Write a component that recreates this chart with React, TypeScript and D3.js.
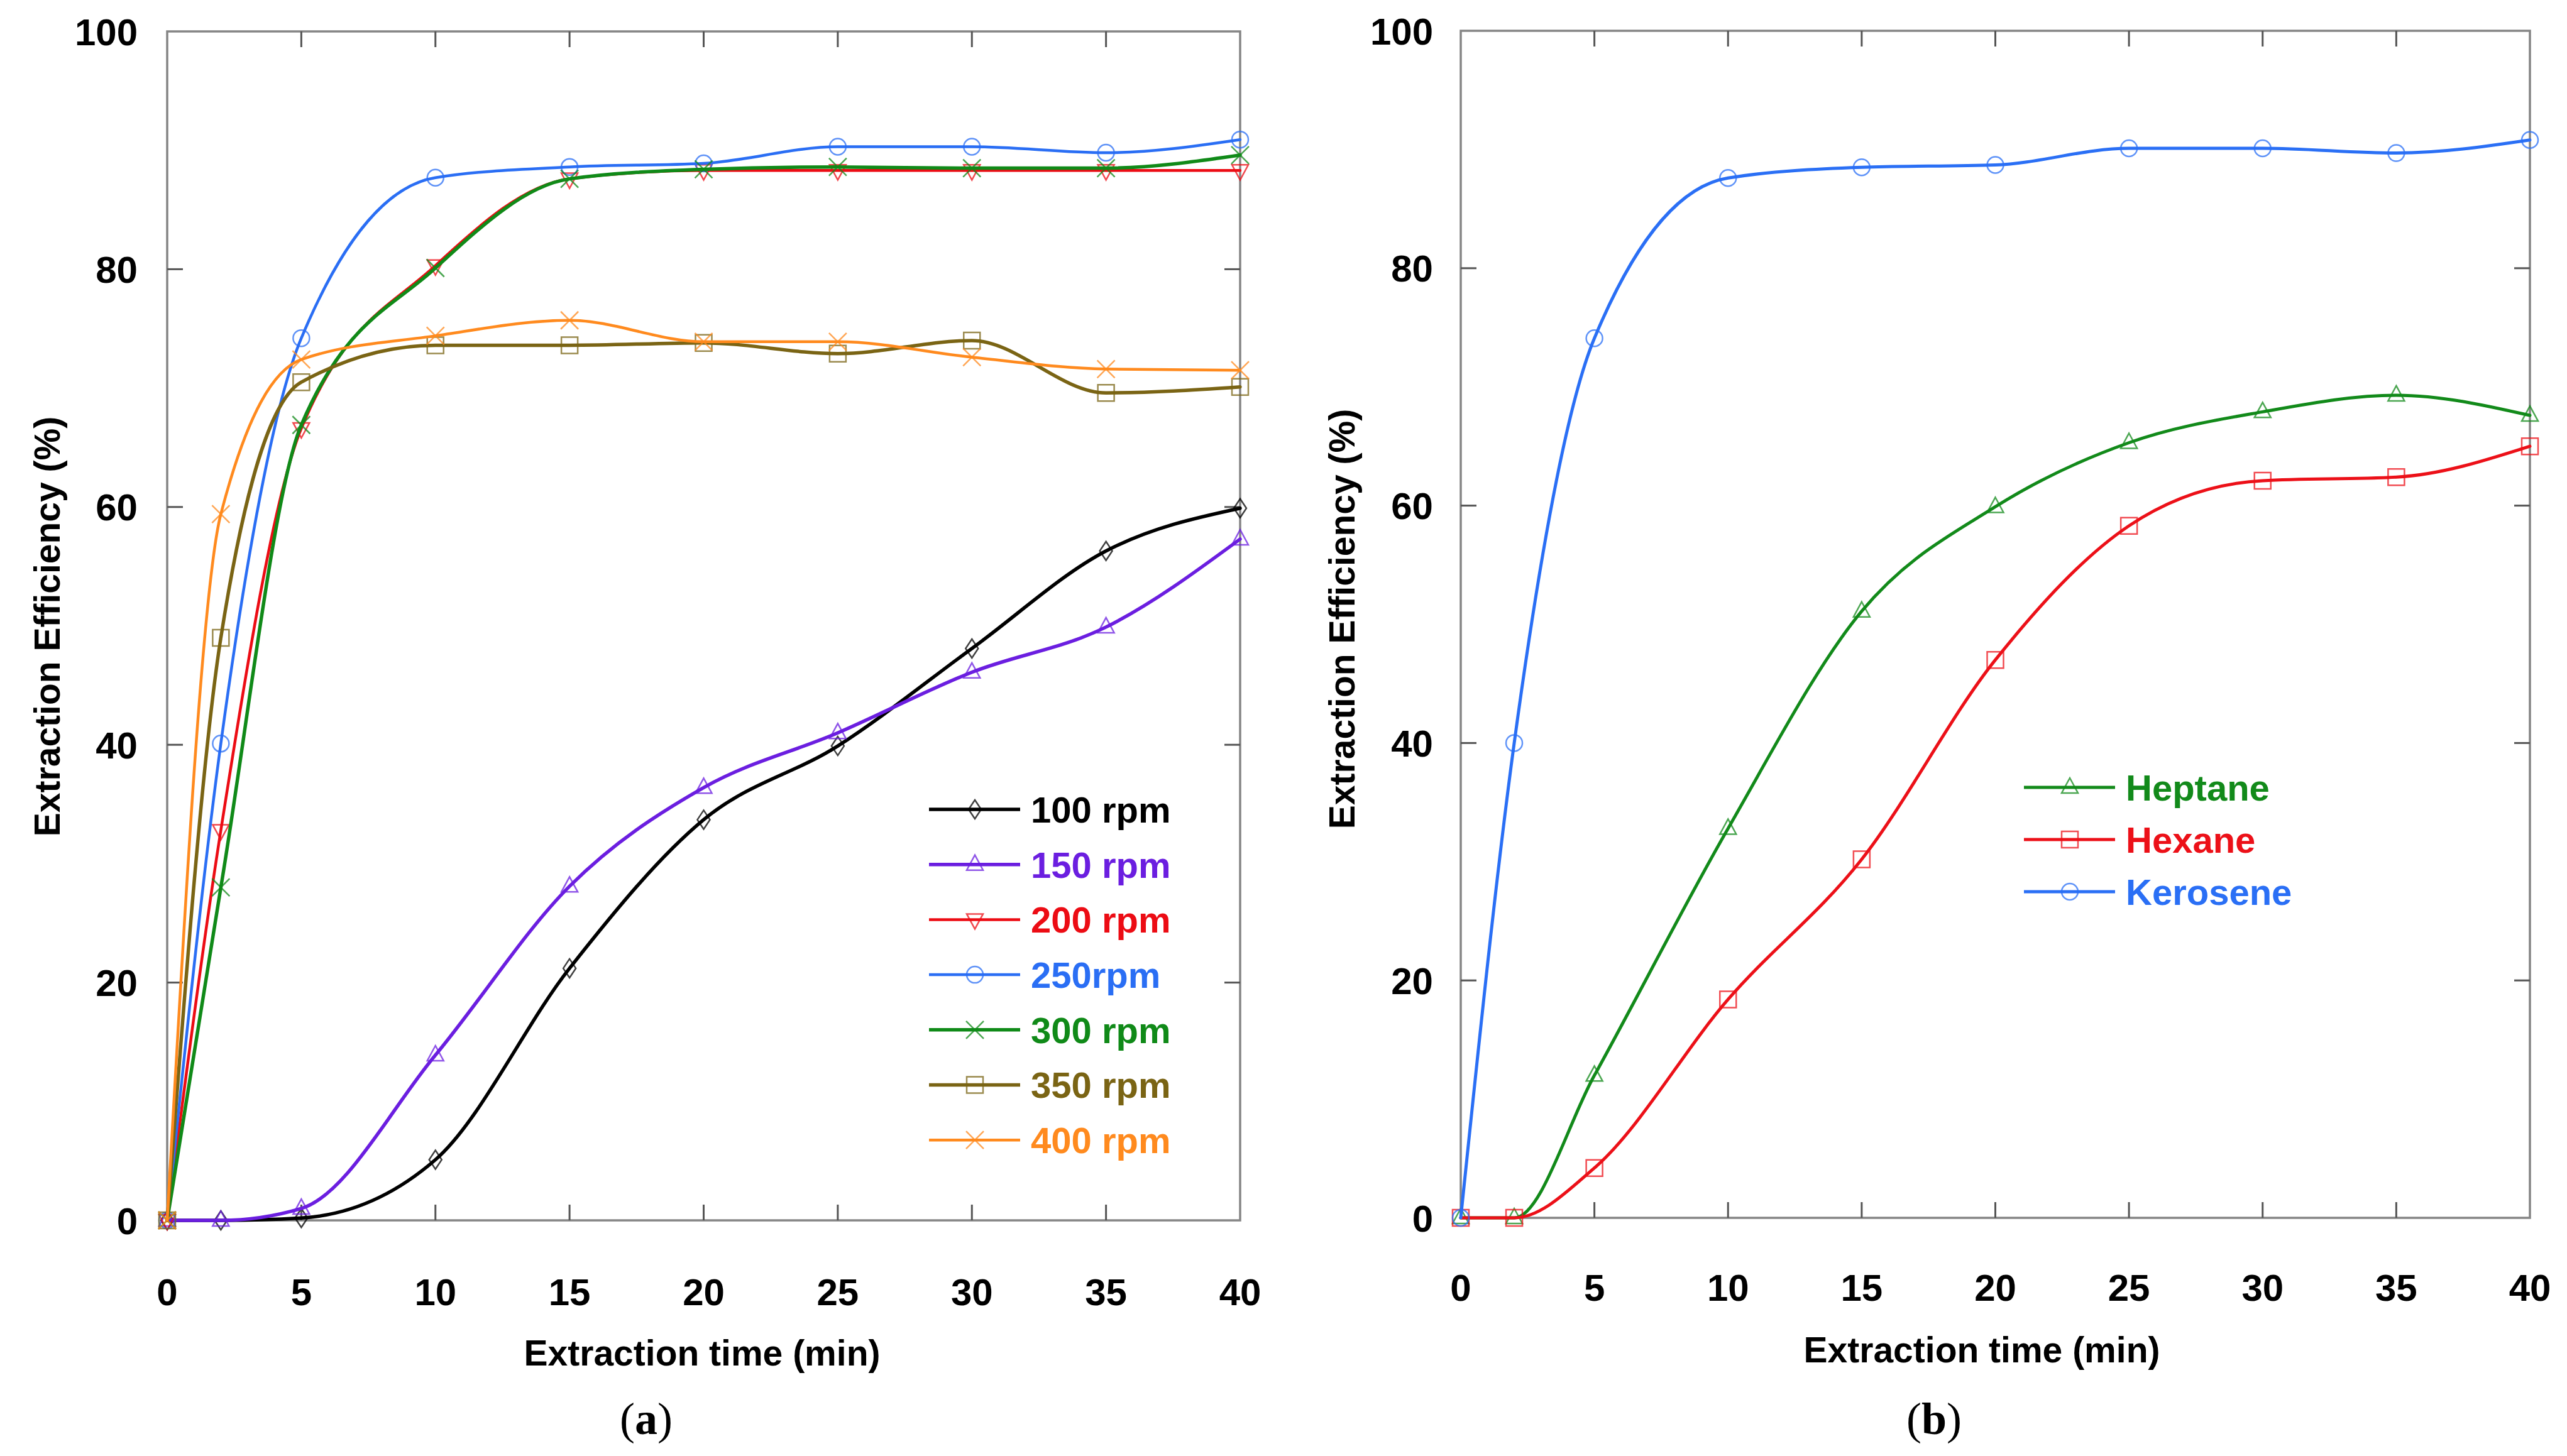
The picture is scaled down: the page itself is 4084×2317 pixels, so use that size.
import * as d3 from 'd3';

// extraction time points (min), shared by every series
const timePoints = [0, 2, 5, 10, 15, 20, 25, 30, 35, 40];

// panel (a): stirring speed
const rpm100 = [0, 0, 0.2, 5.1, 21.2, 33.7, 39.9, 48.1, 56.3, 59.9];
const rpm150 = [0, 0, 1.0, 13.9, 28.1, 36.4, 41.0, 46.1, 49.9, 57.3];
const rpm200 = [0, 32.8, 66.6, 80.3, 87.6, 88.3, 88.3, 88.3, 88.3, 88.3];
const rpm250 = [0, 40.1, 74.2, 87.7, 88.6, 88.9, 90.3, 90.3, 89.8, 90.9];
const rpm300 = [0, 28.0, 66.9, 80.1, 87.6, 88.4, 88.6, 88.5, 88.5, 89.6];
const rpm350 = [0, 49.0, 70.5, 73.6, 73.6, 73.8, 72.9, 74.0, 69.6, 70.1];
const rpm400 = [0, 59.4, 72.4, 74.4, 75.7, 73.9, 73.9, 72.6, 71.6, 71.5];
const rpmLabels = ['100 rpm', '150 rpm', '200 rpm', '250rpm', '300 rpm', '350 rpm', '400 rpm'];

// panel (b): solvent
const heptane = [0, 0, 12.0, 32.8, 51.1, 59.9, 65.3, 67.9, 69.3, 67.6];
const hexane = [0, 0, 4.2, 18.4, 30.2, 47.0, 58.3, 62.1, 62.4, 65.0];
const kerosene = [0, 40.0, 74.1, 87.6, 88.5, 88.7, 90.1, 90.1, 89.7, 90.8];
const solventLabels = ['Heptane', 'Hexane', 'Kerosene'];

const xTicks = [0, 5, 10, 15, 20, 25, 30, 35, 40];
const yTicks = [0, 20, 40, 60, 80, 100];

type Shape = 'diamond' | 'triUp' | 'triDown' | 'circle' | 'times' | 'square';

interface Series {
  label: string;
  values: number[];
  color: string;
  shape: Shape;
  width: number;
}

const speedSeries: Series[] = [
  { label: rpmLabels[0], values: rpm100, color: '#000000', shape: 'diamond', width: 5.5 },
  { label: rpmLabels[1], values: rpm150, color: '#6b1ee0', shape: 'triUp', width: 5.5 },
  { label: rpmLabels[2], values: rpm200, color: '#ec0c14', shape: 'triDown', width: 4.5 },
  { label: rpmLabels[3], values: rpm250, color: '#2a6ef4', shape: 'circle', width: 4.5 },
  { label: rpmLabels[4], values: rpm300, color: '#108a18', shape: 'times', width: 5.5 },
  { label: rpmLabels[5], values: rpm350, color: '#7a6414', shape: 'square', width: 5.5 },
  { label: rpmLabels[6], values: rpm400, color: '#ff8a1e', shape: 'times', width: 4.5 }
];

const solventSeries: Series[] = [
  { label: solventLabels[0], values: heptane, color: '#128a1a', shape: 'triUp', width: 5 },
  { label: solventLabels[1], values: hexane, color: '#ec1018', shape: 'square', width: 5 },
  { label: solventLabels[2], values: kerosene, color: '#2a6ff5', shape: 'circle', width: 5 }
];

function markerPath(shape: Shape): string {
  switch (shape) {
    case 'diamond': return 'M0,-15L10,0L0,15L-10,0Z';
    case 'triUp': return 'M0,-15L13,9L-13,9Z';
    case 'triDown': return 'M0,15L13,-9L-13,-9Z';
    case 'square': return 'M-13,-13H13V13H-13Z';
    case 'times': return 'M-14,-14L14,14M14,-14L-14,14';
    default: return '';
  }
}

function Marker({ shape, color, x, y }: { shape: Shape; color: string; x: number; y: number }) {
  const common = { fill: 'none', stroke: color, strokeWidth: 2.5, strokeOpacity: 0.75 };
  if (shape === 'circle') return <circle cx={x} cy={y} r={13} {...common} />;
  return <path d={markerPath(shape)} transform={`translate(${x},${y})`} {...common} />;
}

interface PanelProps {
  series: Series[];
  left: number;
  right: number;
  top: number;
  bottom: number;
  yLabelX: number;
  xLabelY: number;
  yTitlePos: [number, number];
  xTitlePos: [number, number];
  legendX: number;
  legendY: number;
  legendStep: number;
  tag: string;
  tagX: number;
}

const font = "'Liberation Sans', Arial, sans-serif";

function Panel(p: PanelProps) {
  const x = d3.scaleLinear().domain([0, 40]).range([p.left, p.right]);
  const y = d3.scaleLinear().domain([0, 100]).range([p.bottom, p.top]);
  const line = d3.line<number>()
    .x((_, i) => x(timePoints[i]))
    .y((d) => y(d))
    .curve(d3.curveMonotoneX);
  const tickLen = 25;
  const tickColor = '#555';

  return (
    <g>
      <rect x={p.left} y={p.top} width={p.right - p.left} height={p.bottom - p.top}
        fill="none" stroke="#858585" strokeWidth={3.5} />
      {xTicks.slice(1, -1).map((t) => (
        <g key={`xt${t}`} stroke={tickColor} strokeWidth={3}>
          <line x1={x(t)} x2={x(t)} y1={p.bottom} y2={p.bottom - tickLen} />
          <line x1={x(t)} x2={x(t)} y1={p.top} y2={p.top + tickLen} />
        </g>
      ))}
      {yTicks.slice(1, -1).map((t) => (
        <g key={`yt${t}`} stroke={tickColor} strokeWidth={3}>
          <line x1={p.left} x2={p.left + tickLen} y1={y(t)} y2={y(t)} />
          <line x1={p.right} x2={p.right - tickLen} y1={y(t)} y2={y(t)} />
        </g>
      ))}
      {xTicks.map((t) => (
        <text key={`xl${t}`} x={x(t)} y={p.xLabelY} textAnchor="middle"
          fontFamily={font} fontWeight="bold" fontSize={60} fill="#000">{t}</text>
      ))}
      {yTicks.map((t) => (
        <text key={`yl${t}`} x={p.yLabelX} y={y(t)} dy="0.36em" textAnchor="end"
          fontFamily={font} fontWeight="bold" fontSize={60} fill="#000">{t}</text>
      ))}
      <text transform={`translate(${p.yTitlePos[0]},${p.yTitlePos[1]}) rotate(-90)`} textAnchor="middle"
        fontFamily={font} fontWeight="bold" fontSize={57} fill="#000">Extraction Efficiency (%)</text>
      <text x={p.xTitlePos[0]} y={p.xTitlePos[1]} textAnchor="middle"
        fontFamily={font} fontWeight="bold" fontSize={57} fill="#000">Extraction time (min)</text>

      {p.series.map((s) => (
        <g key={s.label}>
          <path d={line(s.values) ?? ''} fill="none" stroke={s.color} strokeWidth={s.width}
            strokeLinejoin="round" strokeLinecap="round" />
          {s.values.map((v, i) => (
            <Marker key={i} shape={s.shape} color={s.color} x={x(timePoints[i])} y={y(v)} />
          ))}
        </g>
      ))}

      {p.series.map((s, i) => {
        const ly = p.legendY + i * p.legendStep;
        return (
          <g key={`lg${s.label}`}>
            <line x1={p.legendX} x2={p.legendX + 145} y1={ly} y2={ly} stroke={s.color} strokeWidth={s.width} />
            <Marker shape={s.shape} color={s.color} x={p.legendX + 73} y={ly} />
            <text x={p.legendX + 162} y={ly} dy="0.36em" fontFamily={font} fontWeight="bold"
              fontSize={58} fill={s.color}>{s.label}</text>
          </g>
        );
      })}

      <text x={p.tagX} y={2282} textAnchor="middle" fontFamily="'Liberation Serif', 'Times New Roman', serif"
        fontSize={72} fill="#000">(<tspan fontWeight="bold">{p.tag}</tspan>)</text>
    </g>
  );
}

export default function App() {
  return (
    <div style={{ position: 'absolute', left: 0, top: 0, background: '#fff' }}>
      <svg width={4084} height={2317} viewBox="0 0 4084 2317" style={{ display: 'block' }}>
        <rect width={4084} height={2317} fill="#fff" />
        <Panel series={speedSeries} left={266} right={1973} top={50} bottom={1942}
          yLabelX={219} xLabelY={2077} yTitlePos={[95, 997]} xTitlePos={[1117, 2173]}
          legendX={1478} legendY={1288} legendStep={87.7} tag="a" tagX={1028} />
        <Panel series={solventSeries} left={2324} right={4025} top={49} bottom={1938}
          yLabelX={2280} xLabelY={2070} yTitlePos={[2155, 985]} xTitlePos={[3153, 2168]}
          legendX={3220} legendY={1253} legendStep={83} tag="b" tagX={3077} />
      </svg>
    </div>
  );
}
